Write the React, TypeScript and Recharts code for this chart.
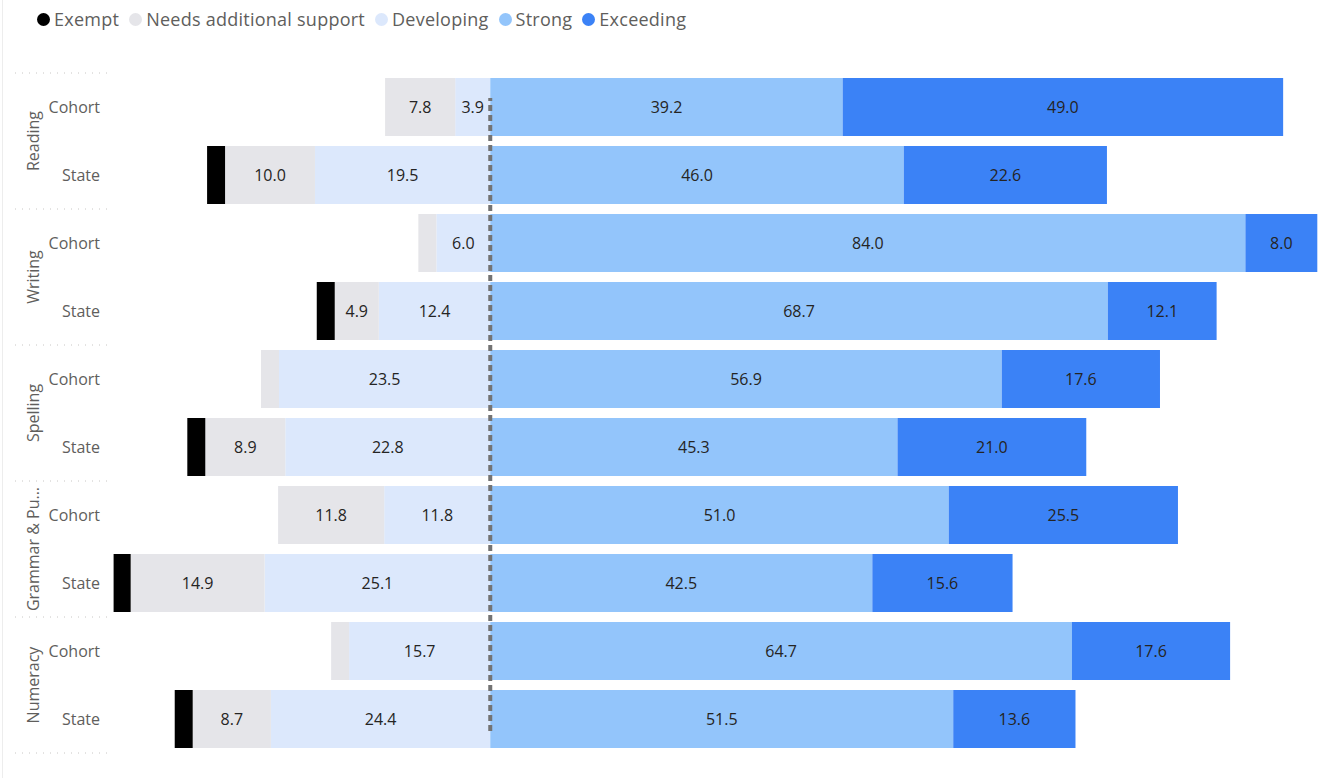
import React from "react";
import { BarChart, Bar, XAxis, YAxis, ReferenceLine, LabelList } from "recharts";

// subjects / rows
const subjects = ["Reading", "Writing", "Spelling", "Grammar & Pu...", "Numeracy"];
const groups = ["Cohort", "State"];

// values per row (Reading Cohort, Reading State, Writing Cohort, ...)
const exempt = [0, 2.0, 0, 2.0, 0, 2.0, 0, 1.9, 0, 2.0];
const needsSupport = [7.8, 10.0, 2.0, 4.9, 2.0, 8.9, 11.8, 14.9, 2.0, 8.7];
const developing = [3.9, 19.5, 6.0, 12.4, 23.5, 22.8, 11.8, 25.1, 15.7, 24.4];
const strong = [39.2, 46.0, 84.0, 68.7, 56.9, 45.3, 51.0, 42.5, 64.7, 51.5];
const exceeding = [49.0, 22.6, 8.0, 12.1, 17.6, 21.0, 25.5, 15.6, 17.6, 13.6];

const legendItems = [
  { name: "Exempt", color: "#000000" },
  { name: "Needs additional support", color: "#E5E5E9" },
  { name: "Developing", color: "#DCE8FC" },
  { name: "Strong", color: "#93C5FB" },
  { name: "Exceeding", color: "#3B82F6" },
];

const data = subjects.flatMap((s, si) =>
  groups.map((g, gi) => {
    const i = si * 2 + gi;
    return {
      key: `${s}|${g}`,
      subject: s,
      group: g,
      exempt: -exempt[i],
      needs: -needsSupport[i],
      developing: -developing[i],
      strong: strong[i],
      exceeding: exceeding[i],
    };
  })
);

const W = 1325;
const H = 778;
const TOP = 73;
const BOTTOM = 25;
const rowH = (H - TOP - BOTTOM) / data.length;
const font = "'Segoe UI', 'Open Sans', sans-serif";

const fmt = (v: any) => {
  const n = Math.abs(Number(v));
  return n < 3 ? "" : n.toFixed(1);
};

const CategoryTick = (props: any) => {
  const { y, payload, index } = props;
  const row = data[index] || data.find((d) => d.key === payload.value);
  if (!row) return null;
  const isFirst = row.group === "Cohort";
  const isLast = index === data.length - 1;
  return (
    <g>
      <text x={100} y={y} dy={6} textAnchor="end" fill="#605E5C" fontSize={16} fontFamily={font}>
        {row.group}
      </text>
      {isFirst && (
        <>
          <line x1={15} x2={110} y1={y - rowH / 2} y2={y - rowH / 2} stroke="#C8C6C4" strokeDasharray="1 6" />
          <text
            x={33}
            y={y + rowH / 2}
            transform={`rotate(-90 33 ${y + rowH / 2})`}
            dy={6}
            textAnchor="middle"
            fill="#605E5C"
            fontSize={16}
            fontFamily={font}
          >
            {row.subject}
          </text>
        </>
      )}
      {isLast && (
        <line x1={15} x2={110} y1={y + rowH / 2} y2={y + rowH / 2} stroke="#C8C6C4" strokeDasharray="1 6" />
      )}
    </g>
  );
};

const DashedZero = (props: any) => {
  const { x1, x2, y1, y2 } = props;
  return (
    <line x1={x1} x2={x2} y1={y1 - 22} y2={y2 + 25} stroke="#737373" strokeWidth={4} strokeDasharray="6 4" />
  );
};

const labelProps = { position: "center" as const, formatter: fmt, fill: "#252423", fontSize: 16, fontFamily: font };

export default function App() {
  return (
    <div style={{ position: "absolute", left: 0, top: 0, width: W, height: H, background: "#fff", fontFamily: font }}>
      <div style={{ position: "absolute", left: 2, top: 0, width: 1, height: H, background: "#EDEDED" }} />
      <div
        style={{
          position: "absolute",
          left: 37,
          top: 7,
          display: "flex",
          gap: 10,
          fontSize: 18,
          letterSpacing: 0.25,
          color: "#605E5C",
        }}
      >
        {legendItems.map((l) => (
          <div key={l.name} style={{ display: "flex", alignItems: "center", gap: 4 }}>
            <div style={{ width: 13, height: 13, borderRadius: "50%", background: l.color }} />
            <span>{l.name}</span>
          </div>
        ))}
      </div>
      <BarChart
        width={W}
        height={H}
        data={data}
        layout="vertical"
        stackOffset="sign"
        barCategoryGap={5}
        margin={{ top: TOP, bottom: BOTTOM, left: 0, right: 5 }}
      >
        <XAxis type="number" domain={[-42.3, 92.3]} hide allowDataOverflow />
        <YAxis
          type="category"
          dataKey="key"
          width={110}
          axisLine={false}
          tickLine={false}
          interval={0}
          tick={<CategoryTick />}
        />
        <Bar dataKey="developing" stackId="a" fill="#DCE8FC" isAnimationActive={false}>
          <LabelList dataKey="developing" {...labelProps} />
        </Bar>
        <Bar dataKey="needs" stackId="a" fill="#E5E5E9" isAnimationActive={false}>
          <LabelList dataKey="needs" {...labelProps} />
        </Bar>
        <Bar dataKey="exempt" stackId="a" fill="#000000" isAnimationActive={false} />
        <Bar dataKey="strong" stackId="a" fill="#93C5FB" isAnimationActive={false}>
          <LabelList dataKey="strong" {...labelProps} />
        </Bar>
        <Bar dataKey="exceeding" stackId="a" fill="#3B82F6" isAnimationActive={false}>
          <LabelList dataKey="exceeding" {...labelProps} />
        </Bar>
        <ReferenceLine x={0} shape={<DashedZero />} ifOverflow="visible" />
      </BarChart>
    </div>
  );
}
